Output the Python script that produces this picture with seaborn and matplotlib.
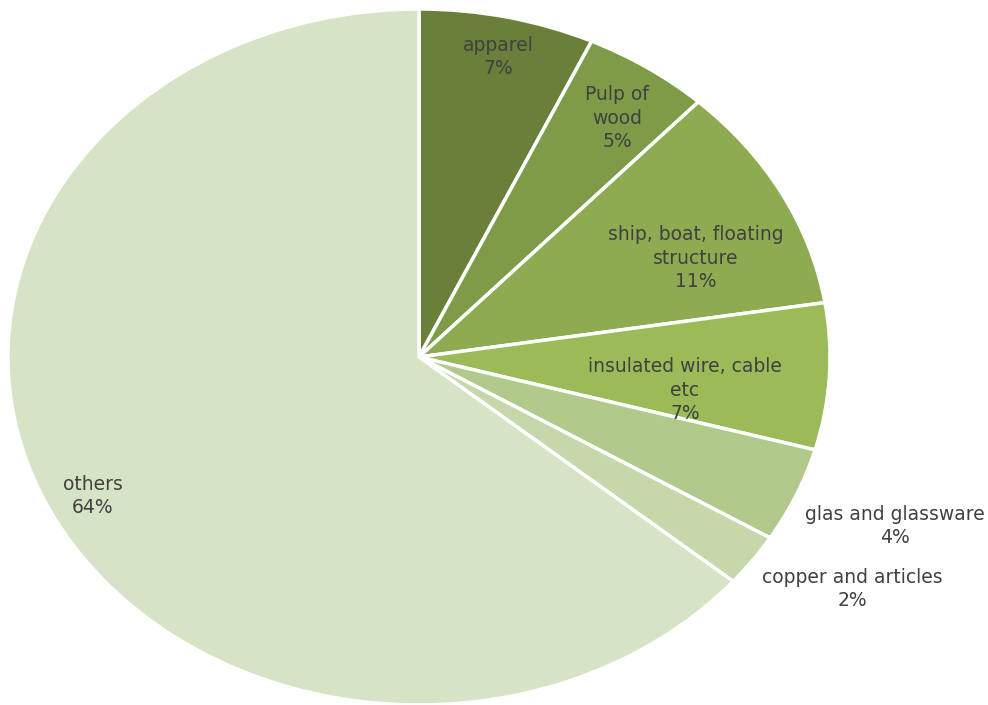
import matplotlib
matplotlib.use("Agg")
import matplotlib.pyplot as plt
import seaborn as sns

categories = ["apparel", "Pulp of\nwood", "ship, boat, floating\nstructure",
              "insulated wire, cable\netc", "glas and glassware",
              "copper and articles", "others"]
values = [6.9, 5.0, 10.6, 6.8, 4.4, 2.45, 63.85]

colors = ["#6a803a", "#7e9c48", "#8eab52", "#9bbb59", "#b1c98b", "#c6d7a9", "#d7e3c5"]
# label anchor positions in figure pixels (x from left, y from top)
label_px = [(498, 57), (617, 118), (696, 258), (685, 390), (895, 526), (852, 589), (93, 496)]

sns.set_theme(style="white")
plt.rcParams["font.family"] = ["DejaVu Sans"]

W, H = 988, 705
fig = plt.figure(figsize=(W / 100, H / 100), dpi=100)
ax = fig.add_axes([8 / W, 0 / H, 822 / W, 696 / H])

total = sum(values)
ax.pie(values, colors=colors, startangle=90, counterclock=False, radius=1,
       wedgeprops=dict(edgecolor="white", linewidth=2.5))
ax.set_aspect("auto")
ax.set_xlim(-1, 1)
ax.set_ylim(-1, 1)
ax.axis("off")

for cat, v, (px, py) in zip(categories, values, label_px):
    txt = f"{cat}\n{v / total * 100:.0f}%"
    fig.text(px / W, 1 - py / H, txt, ha="center", va="center",
             fontsize=13.5, color="#404040", linespacing=1.33)

fig.savefig("out.png", dpi=100, facecolor="white")
